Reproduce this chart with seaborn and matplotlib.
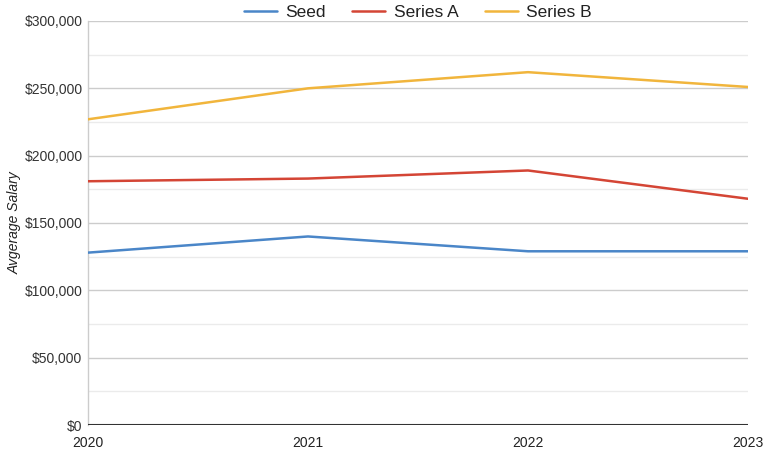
import pandas as pd
import numpy as np
import matplotlib.pyplot as plt
import seaborn as sns
from matplotlib.ticker import FuncFormatter, MultipleLocator

# data
years = [2020, 2021, 2022, 2023]
seed = [128000, 140000, 129000, 129000]
series_a = [181000, 183000, 189000, 168000]
series_b = [227000, 250000, 262000, 251000]

df = pd.DataFrame({
    'Year': years * 3,
    'Salary': seed + series_a + series_b,
    'Round': ['Seed'] * 4 + ['Series A'] * 4 + ['Series B'] * 4,
})

sns.set_style('white')
plt.rcParams['font.family'] = ['Liberation Sans', 'DejaVu Sans']

fig = plt.figure(figsize=(7.68, 4.55), dpi=100)
ax = fig.add_axes([88/768, 30/455, 660/768, 404/455])

colors = {'Seed': '#4a86c8', 'Series A': '#d44535', 'Series B': '#f1b53c'}
sns.lineplot(data=df, x='Year', y='Salary', hue='Round', palette=colors,
             linewidth=1.8, ax=ax, zorder=3)

ax.set_xlim(2020, 2023)
ax.set_ylim(0, 300000)
ax.set_xticks(years)
ax.set_xticklabels([str(y) for y in years])
ax.yaxis.set_major_locator(MultipleLocator(50000))
ax.yaxis.set_minor_locator(MultipleLocator(25000))
ax.yaxis.set_major_formatter(FuncFormatter(lambda v, p: '${:,.0f}'.format(v)))
ax.grid(axis='y', which='major', color='#cccccc', linewidth=1)
ax.grid(axis='y', which='minor', color='#ebebeb', linewidth=1)
ax.axhline(0, color='#333333', linewidth=1.5, zorder=4)

for s in ['top', 'right', 'bottom']:
    ax.spines[s].set_visible(False)
ax.spines['left'].set_color('#cccccc')
ax.spines['left'].set_linewidth(1)

ax.tick_params(axis='both', which='both', length=0, labelsize=10, colors='#333333')
ax.tick_params(axis='x', pad=8)
ax.tick_params(axis='y', pad=4)
for lab in ax.get_xticklabels():
    lab.set_color('#222222')

ax.set_xlabel('')
ax.set_ylabel('Avgerage Salary', fontstyle='italic', fontsize=10, color='#222222')
ax.yaxis.set_label_coords(-0.101, 0.5)

leg = ax.legend(loc='lower center', bbox_to_anchor=(0.5, 0.985), ncol=3,
                frameon=False, fontsize=12.5, handlelength=1.9, columnspacing=1.5,
                handletextpad=0.5, borderaxespad=0)
for t in leg.get_texts():
    t.set_color('#222222')

fig.savefig('out.png', dpi=100)
